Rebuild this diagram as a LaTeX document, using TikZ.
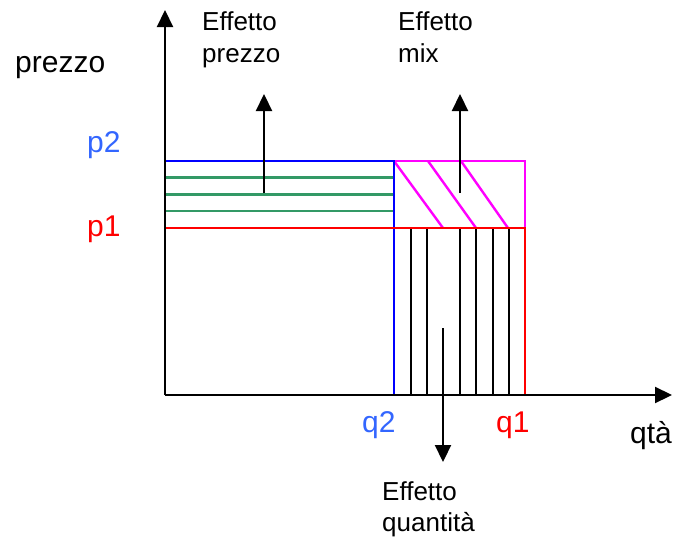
\documentclass[tikz,border=0pt]{standalone}
\usepackage{fontspec}
\setmainfont{Liberation Sans}
\usetikzlibrary{arrows.meta}
\definecolor{pblue}{HTML}{3366FF}
\definecolor{lblue}{HTML}{0000FF}
\definecolor{lred}{HTML}{FF0000}
\definecolor{lgreen}{HTML}{339966}
\definecolor{lmag}{HTML}{FF00FF}
\tikzset{
  axisline/.style={line width=2.2pt,-{Triangle[width=16pt,length=17pt]}},
  effarrow/.style={line width=2.2pt,-{Triangle[width=16pt,length=17pt]}},
  hatchline/.style={line width=2.2pt,black},
  ann/.style={anchor=base west,inner sep=0pt,font=\fontsize{26}{30}\selectfont},
  lab/.style={anchor=base west,inner sep=0pt,font=\fontsize{30}{34}\selectfont},
}
\begin{document}
\begin{tikzpicture}[x=1pt,y=-1pt]
\useasboundingbox (0,0) rectangle (677,541);
% coordinates
\coordinate (O) at (165,395);
\coordinate (ytip) at (165,10);
\coordinate (xtip) at (672,395);
% green price-effect lines
\foreach \yy in {177.7,194.3,211} \draw[lgreen,line width=2.6pt] (165,\yy) -- (394,\yy);
% quantity hatching
\foreach \xx in {410.7,427,460,476,492.7,508.7} \draw[hatchline] (\xx,228) -- (\xx,395);
% mix region
\draw[lmag,line width=2.6pt] (394,161) -- (525,161) -- (525,228);
\draw[lmag,line width=2.4pt] (394,161) -- (443,228);
\draw[lmag,line width=2.4pt] (428,161) -- (476,228);
\draw[lmag,line width=2.4pt] (461,161) -- (508,228);
% p2 / q2
\draw[lblue,line width=2.6pt] (165,161) -- (394,161) -- (394,395);
% p1 / q1
\draw[lred,line width=2.6pt] (165,228) -- (525,228) -- (525,395);
% axes
\draw[axisline] (O) -- (ytip);
\draw[axisline] (O) -- (xtip);
% effect arrows
\coordinate (pa0) at (264,193); \coordinate (pa1) at (264,94);
\coordinate (ma0) at (460,193); \coordinate (ma1) at (460,94);
\coordinate (qa0) at (443,328); \coordinate (qa1) at (443,462);
\draw[effarrow] (pa0) -- (pa1);
\draw[effarrow] (ma0) -- (ma1);
\draw[effarrow] (qa0) -- (qa1);
% labels
\node[lab] (ylab) at (15,72) {prezzo};
\node[lab,text=pblue] (p2) at (87,152) {p2};
\node[lab,text=lred] (p1) at (87,236) {p1};
\node[lab,text=pblue] (q2) at (362,432) {q2};
\node[lab,text=lred] (q1) at (496,432) {q1};
\node[lab] (xlab) at (630,443) {qtà};
\node[ann] (ep1) at (202,30) {Effetto};
\node[ann] (ep2) at (202,62) {prezzo};
\node[ann] (em1) at (398,30) {Effetto};
\node[ann] (em2) at (398,62) {mix};
\node[ann] (eq1) at (382,500) {Effetto};
\node[ann] (eq2) at (382,531) {quantità};
\end{tikzpicture}
\end{document}
